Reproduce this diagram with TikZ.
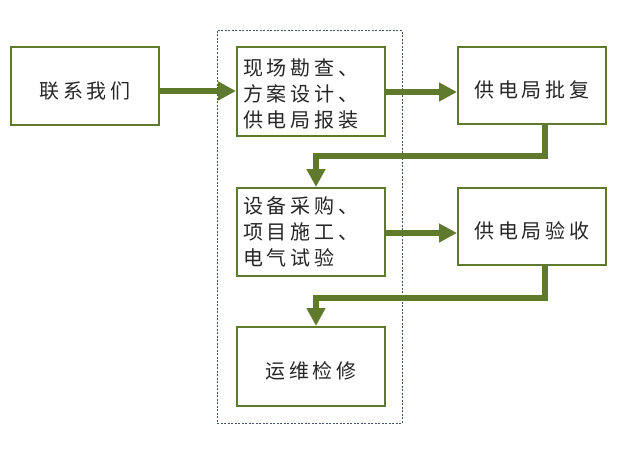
\documentclass[tikz,border=0pt]{standalone}
\usepackage{fontspec}
\usetikzlibrary{arrows.meta}
\newfontfamily\cjk{Noto Sans CJK SC}[LetterSpace=19]
\definecolor{boxgreen}{RGB}{95,122,45}
\definecolor{groupblue}{RGB}{68,84,106}
\tikzset{
  stepbox/.style={draw=boxgreen,line width=2pt,fill=white,inner sep=0pt,
    minimum width=148pt,font=\cjk\fontsize{20}{26}\selectfont,
    text=black!85,text height=24pt,text depth=0pt},
  listbox/.style={stepbox,text width=136pt,inner xsep=6pt,align=left,
    text height=17pt},
  flow/.style={draw=boxgreen,line width=6pt,
    -{Triangle[length=18pt,width=18pt]}}
}
\begin{document}
\begin{tikzpicture}[x=1pt,y=-1pt]
  \useasboundingbox (0,0) rectangle (620,452);
  % group frame
  \draw[groupblue,line width=1pt,dash pattern=on 2pt off 1.5pt]
    (217,31) rectangle (402,423);
  % steps
  \node[stepbox,minimum height=78pt] (contact) at (85,86) {联系我们};
  \node[listbox,minimum height=88pt,text depth=50pt] (survey) at (311,91.5)
    {现场勘查、\\方案设计、\\供电局报装};
  \node[stepbox,minimum height=77pt] (approve) at (532,85.5) {供电局批复};
  \node[listbox,minimum height=88pt,text depth=55pt] (purchase) at (311,232)
    {设备采购、\\项目施工、\\电气试验};
  \node[stepbox,minimum height=77pt] (accept) at (532,226.5) {供电局验收};
  \node[stepbox,minimum height=79pt] (maintain) at (311,366.5) {运维检修};
  % arrows
  \draw[flow] (contact.east |- 0,91) -- (survey.west |- 0,91);
  \draw[flow] (survey.east |- 0,92) -- (approve.west |- 0,92);
  \draw[flow] ([xshift=13pt]approve.south) -- ++(0,31)
    -| ([xshift=5pt]purchase.north);
  \draw[flow] (purchase.east |- 0,233) -- (accept.west |- 0,233);
  \draw[flow] ([xshift=13pt]accept.south) -- ++(0,32)
    -| ([xshift=5pt]maintain.north);
\end{tikzpicture}
\end{document}
